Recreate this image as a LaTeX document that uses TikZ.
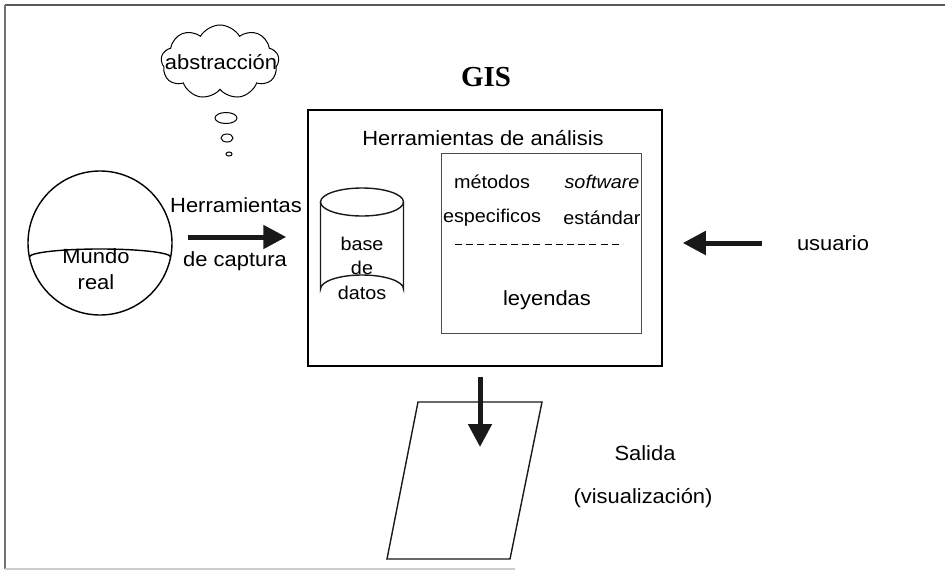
\documentclass[tikz,border=0pt]{standalone}
\usepackage{fontspec}
\setmainfont{Liberation Sans}[FakeStretch=1.07]
\newfontfamily\gisfont{Liberation Serif}
\usetikzlibrary{arrows.meta,shapes.symbols,shapes.geometric}
\tikzset{
  lbl/.style={font=\fontsize{20.5}{24}\selectfont, inner sep=0pt},
  small/.style={font=\fontsize{18.5}{24.5}\selectfont, inner sep=0pt},
  bigarrow/.style={line width=5pt, draw=black!90, -{Triangle[length=23pt,width=23pt]}},
  shapeline/.style={line width=1.4pt, draw=black!90},
  bubble/.style={ellipse, draw, line width=1pt, inner sep=0pt},
}
\begin{document}
\begin{tikzpicture}[x=1pt,y=-1pt]
\useasboundingbox (0,0) rectangle (945,570);
% frame
\coordinate (ftl) at (5,5);
\coordinate (ftr) at (945,5);
\coordinate (fbl) at (5,569);
\coordinate (fbr) at (515,569);
\draw[black!65, line width=2pt] (ftl) -- (ftr);
\draw[black!55, line width=2.5pt] (ftl) -- (fbl);
\draw[black!20, line width=1.5pt] (fbl) -- (fbr);

% thought cloud
\node[cloud, draw, line width=1pt, cloud puffs=9, cloud puff arc=120, cloud ignores aspect,
      minimum width=118pt, minimum height=74pt, inner sep=0pt] (cloud) at (220,62) {};
\node[lbl] (abs) at (221,62) {abstracción};
\node[bubble, minimum width=22pt, minimum height=11pt] (b1) at (226,118) {};
\node[bubble, minimum width=12pt, minimum height=8pt] (b2) at (227,138) {};
\node[bubble, minimum width=6pt, minimum height=4pt] (b3) at (229,154) {};

% title
\node[font=\gisfont\bfseries\fontsize{29}{30}\selectfont, inner sep=0pt] (title) at (486,77) {GIS};

% GIS box
\node[draw, line width=1.5pt, minimum width=354pt, minimum height=256pt, inner sep=0pt] (gis) at (485,238) {};
\node[lbl] (tools) at (483,138) {Herramientas de análisis};
\node[draw=black!70, line width=1pt, minimum width=200pt, minimum height=180pt, inner sep=0pt] (inner) at (541,243) {};
\node[small] (met) at (492,182) {métodos};
\node[small] (soft) at (602,182) {\itshape software};
\node[small] (esp) at (492,218) {especificos};
\node[small] (est) at (602,218) {estándar};
\coordinate (dashA) at (455,244);
\coordinate (dashB) at (623,244);
\draw[line width=1pt, dash pattern=on 7pt off 4.2pt] (dashA) -- (dashB);
\node[lbl] (ley) at (547,300) {leyendas};

% database cylinder
\coordinate (dbtop) at (362,202);
\draw[shapeline] (dbtop) ellipse [x radius=41.5, y radius=14];
\draw[shapeline] (320.5,202) -- (320.5,289) arc[start angle=180, end angle=360, x radius=41.5, y radius=14] -- (403.5,202);
\node[small, align=center] (db) at (362,268) {base\\de\\datos};

% real world sphere
\node[circle, draw, line width=1.4pt, minimum size=144pt, inner sep=0pt] (world) at (100,243) {};
\coordinate (eqL) at (29.4,257);
\draw[line width=1.4pt] (eqL) arc[start angle=180, end angle=360, x radius=70.6, y radius=8];
\node[lbl] (mundo) at (96,256) {Mundo};
\node[lbl] (real) at (96,282) {real};

% capture arrow
\node[lbl] (cap1) at (236,205) {Herramientas};
\node[lbl] (cap2) at (235,261) {de captura};
\coordinate (capA) at (188,237);
\draw[bigarrow] (capA) -- ([xshift=-21pt]gis.west |- capA);

% user arrow
\node[lbl] (user) at (833,243) {usuario};
\coordinate (usrA) at (762,243);
\draw[bigarrow] (usrA) -- ([xshift=20pt]gis.east |- usrA);

% output
\coordinate (p1) at (418,402);
\coordinate (p2) at (542,402);
\coordinate (p3) at (510,559);
\coordinate (p4) at (387,559);
\draw[shapeline] (p1) -- (p2) -- (p3) -- (p4) -- cycle;
\coordinate (outA) at (480,377);
\coordinate (outB) at (480,447);
\draw[bigarrow] (outA) -- (outB);
\node[lbl] (sal) at (645,453) {Salida};
\node[lbl] (vis) at (643,498) {(visualización)};
\end{tikzpicture}
\end{document}
